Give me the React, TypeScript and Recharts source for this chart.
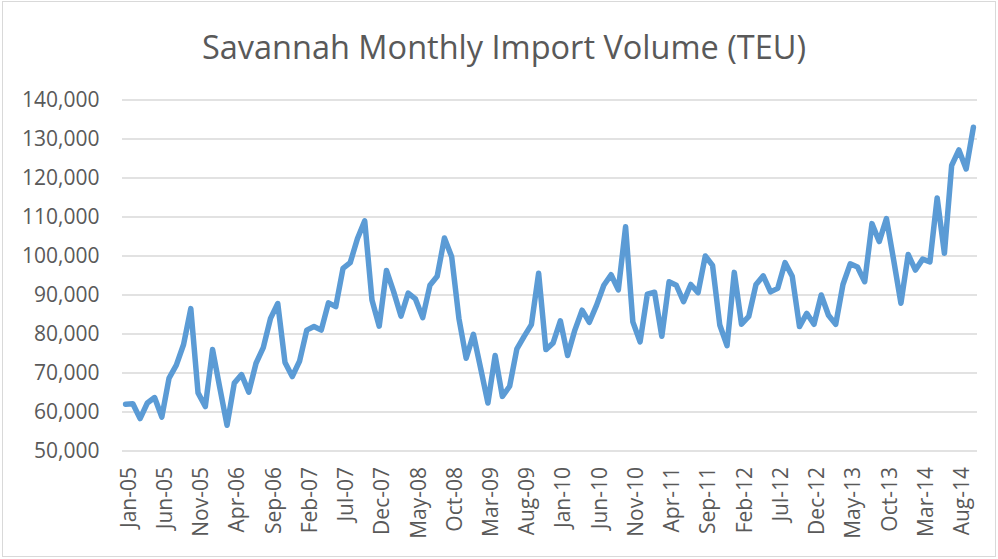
import React from 'react';
import { LineChart, Line, XAxis, YAxis, CartesianGrid } from 'recharts';

const TITLE = 'Savannah Monthly Import Volume (TEU)';
const MONTHS = ['Jan', 'Feb', 'Mar', 'Apr', 'May', 'Jun', 'Jul', 'Aug', 'Sep', 'Oct', 'Nov', 'Dec'];
const YEARS = ['05', '06', '07', '08', '09', '10', '11', '12', '13', '14'];

// Monthly import volume (TEU), Jan-05 .. Oct-14
const TEU = [
  62000, 62100, 58300, 62300, 63700, 58700, 68700, 72000, 77300, 86500, 64900, 61400,
  76000, 66200, 56600, 67400, 69600, 65100, 72500, 76500, 84000, 87800, 72700, 69100,
  73000, 81000, 81900, 81000, 88000, 87000, 96800, 98300, 104500, 109000, 88700, 82000,
  96300, 90800, 84600, 90500, 89000, 84200, 92500, 94800, 104600, 99800, 84000, 73800,
  79900, 71200, 62300, 74500, 64000, 66600, 76200, 79400, 82400, 95600, 76000, 77700,
  83400, 74500, 81000, 86100, 83000, 87400, 92500, 95200, 91300, 107500, 83100, 78000,
  90200, 90700, 79400, 93400, 92500, 88300, 92700, 90600, 100000, 97600, 82300, 77000,
  95800, 82500, 84500, 92700, 94900, 90800, 91700, 98300, 94800, 81900, 85300, 82500,
  90000, 84800, 82500, 92700, 98000, 97200, 93400, 108300, 103700, 109600, 98900, 87900,
  100400, 96400, 99200, 98500, 114900, 100700, 123200, 127200, 122300, 133000,
];

const Y_TICKS = [50000, 60000, 70000, 80000, 90000, 100000, 110000, 120000, 130000, 140000];

const CATEGORIES = TEU.map((_, i) => `${MONTHS[i % 12]}-${YEARS[Math.floor(i / 12)]}`);
const data = CATEGORIES.map((month, i) => ({ month, teu: TEU[i] }));

const TEXT = '#595959';
const FONT = '"Open Sans", sans-serif';

const XTick = (props: any) => {
  const { x, y, payload } = props;
  return (
    <g transform={`translate(${x + 2.5},${y})`}>
      <text
        transform="rotate(-90)"
        textAnchor="end"
        dy="0.36em"
        fill={TEXT}
        fontSize={21}
        fontFamily={FONT}
      >
        {payload.value}
      </text>
    </g>
  );
};

export default function App() {
  return (
    <div style={{ position: 'absolute', left: 0, top: 0, width: 998, height: 559, background: '#fff' }}>
      <div
        style={{
          position: 'absolute',
          left: 2,
          top: 1,
          width: 994,
          height: 556,
          border: '1px solid #d9d9d9',
          boxSizing: 'border-box',
        }}
      />
      <svg width={998} height={90} style={{ position: 'absolute', left: 0, top: 0 }}>
        <text x={504} y={59} textAnchor="middle" fontSize={32.5} fill={TEXT} fontFamily={FONT}>
          {TITLE}
        </text>
      </svg>
      <div style={{ position: 'absolute', left: 0, top: 0 }}>
        <LineChart width={998} height={559} data={data} margin={{ top: 100, right: 21, left: 0, bottom: 0 }}>
          <CartesianGrid horizontal vertical={false} stroke="#d9d9d9" strokeWidth={1.3} />
          <XAxis
            dataKey="month"
            interval={4}
            height={108}
            tickLine={false}
            axisLine={false}
            tickSize={0}
            tickMargin={16}
            padding={{ left: 3.6, right: 3.6 }}
            tick={<XTick />}
          />
          <YAxis
            width={122}
            domain={[50000, 140000]}
            ticks={Y_TICKS}
            tickFormatter={(v: number) => v.toLocaleString('en-US')}
            tickLine={false}
            axisLine={false}
            tickSize={0}
            tickMargin={22.5}
            tick={{ fill: TEXT, fontSize: 21, fontFamily: FONT }}
          />
          <Line
            type="linear"
            dataKey="teu"
            stroke="#5B9BD5"
            strokeWidth={5.5}
            dot={false}
            strokeLinejoin="round"
            strokeLinecap="round"
            isAnimationActive={false}
          />
        </LineChart>
      </div>
    </div>
  );
}
